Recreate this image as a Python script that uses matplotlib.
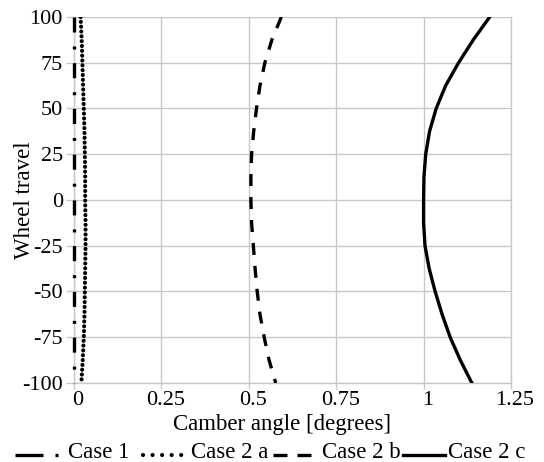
import matplotlib
matplotlib.use("Agg")
import matplotlib.pyplot as plt
from matplotlib.lines import Line2D
from matplotlib.transforms import ScaledTranslation

plt.rcParams['font.family'] = ['Liberation Serif', 'DejaVu Serif']
plt.rcParams['axes.unicode_minus'] = False

travel = [100, 87.5, 75, 62.5, 50, 37.5, 25, 12.5, 0, -12.5, -25, -37.5, -50, -62.5, -75, -87.5, -100]
case1 = [0.0] * len(travel)
case2a = [0.019, 0.022, 0.024, 0.026, 0.028, 0.030, 0.031, 0.032, 0.032, 0.033, 0.033, 0.032, 0.031, 0.030, 0.028, 0.025, 0.021]
case2b = [0.593, 0.566, 0.546, 0.532, 0.522, 0.514, 0.508, 0.506, 0.506, 0.508, 0.513, 0.518, 0.524, 0.532, 0.544, 0.558, 0.577]
case2c = [1.189, 1.142, 1.100, 1.063, 1.036, 1.017, 1.006, 1.001, 1.000, 1.000, 1.004, 1.016, 1.033, 1.053, 1.076, 1.105, 1.138]

xticks = [0, 0.25, 0.5, 0.75, 1, 1.25]
xticklabels = ['0', '0.25', '0.5', '0.75', '1', '1.25']
yticks = [-100, -75, -50, -25, 0, 25, 50, 75, 100]
labels = ['Case 1', 'Case 2 a', 'Case 2 b', 'Case 2 c']

W, H = 544, 462
fig = plt.figure(figsize=(W / 100, H / 100), dpi=100)
ax = fig.add_axes([74 / W, 1 - 383 / H, 437 / W, 366 / H])

lw = 2.4
lwd = 3.0
sty1 = dict(dashes=(4.5, 4.2, 0.9, 4.12))
sty2 = dict(dashes=(0.01, 1.15), dash_capstyle='round')
sty3 = dict(dashes=(3.6, 3.3))
sty4 = dict()
ax.plot(case1, travel, color='black', lw=lw, clip_on=False, zorder=4, **sty1)
ax.plot(case2a, travel, color='black', lw=lwd, zorder=3, **sty2)
ax.plot(case2b, travel, color='black', lw=lw, zorder=3, **sty3)
ax.plot(case2c, travel, color='black', lw=lw, zorder=3, **sty4)

ax.set_xlim(0, 1.25)
ax.set_ylim(-100, 100)
ax.set_xticks(xticks)
ax.set_xticklabels(xticklabels)
ax.set_yticks(yticks)
ax.grid(True, color='#c8c8c8', lw=1.0)
ax.set_axisbelow(True)
for s in ['top', 'right', 'left', 'bottom']:
    ax.spines[s].set_color('#c8c8c8')
    ax.spines[s].set_linewidth(1.0)
ax.spines['top'].set_visible(False)
ax.tick_params(axis='both', colors='#c8c8c8', labelcolor='black', labelsize=16, width=1.0)
ax.tick_params(axis='x', length=4, pad=2)
ax.tick_params(axis='y', length=6, pad=2)
off = ScaledTranslation(4 / 100, 0, fig.dpi_scale_trans)
for lab in ax.get_xticklabels():
    lab.set_transform(lab.get_transform() + off)

ax.set_xlabel('Camber angle [degrees]', fontsize=16.5)
ax.xaxis.set_label_coords((282.5 - 74) / 437, -0.085)
ax.set_ylabel('Wheel travel', fontsize=16.5, va='center')
ax.yaxis.set_label_coords(-(74 - 24.5) / 437, 0.5)

# legend drawn manually below the axes
def fx(px):
    return px / W

def fy(py):
    return 1 - py / H

hy = 455
handles = [(15, 58, lw, dict(dashes=(8.4, 3.6, 0.9, 10))),
           (143, 182, lwd, dict(dashes=(0.01, 2.28), dash_capstyle='round')),
           (273, 312, lw, dict(dashes=(4.2, 3.0))), (403, 445, lw, sty4)]
text_x = [68, 191, 322, 448]
for (x0, x1, w, sty), tx, lab in zip(handles, text_x, labels):
    fig.add_artist(Line2D([fx(x0), fx(x1)], [fy(hy), fy(hy)], transform=fig.transFigure,
                          color='black', lw=w, **sty))
    fig.text(fx(tx), fy(458), lab, fontsize=16.5, ha='left', va='baseline')

fig.savefig('out.png', dpi=100)
